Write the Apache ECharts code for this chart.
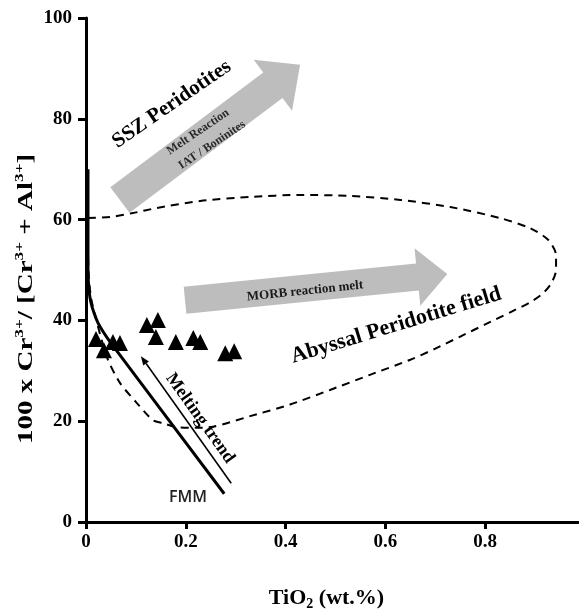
<!DOCTYPE html>
<html>
<head>
<meta charset="utf-8">
<script src="https://cdn.jsdelivr.net/npm/echarts@6/dist/echarts.min.js"></script>
<style>
html,body{margin:0;padding:0;background:#fff;}
#chart{width:579px;height:609px;}
</style>
</head>
<body>
<div id="chart"></div>
<script>
// ---- data ----
const xTickValues = [0, 0.2, 0.4, 0.6, 0.8];
const xTickLabels = ['0', '0.2', '0.4', '0.6', '0.8'];
const yTickValues = [0, 20, 40, 60, 80, 100];

// sample spinels (filled triangles)
const sampleTiO2 = [0.020, 0.036, 0.054, 0.068, 0.122, 0.144, 0.140, 0.180, 0.215, 0.229, 0.279, 0.297];
const sampleCrNo = [36.3, 34.1, 35.7, 35.5, 39.1, 40.1, 36.7, 35.7, 36.5, 35.7, 33.5, 33.9];

// FMM melting curve
const fmmTiO2 = [0.004, 0.004, 0.006, 0.010, 0.016, 0.024, 0.036, 0.050, 0.277];
const fmmCrNo = [70, 50, 46, 43.5, 41.5, 39.5, 37.5, 35.5, 5.6];

// Abyssal peridotite field (closed dashed outline)
const fieldTiO2 = [0.004, 0.048, 0.094, 0.142, 0.229, 0.329, 0.429, 0.529, 0.630, 0.730, 0.830, 0.890, 0.926, 0.942, 0.942, 0.932, 0.915,
  0.890, 0.850, 0.800, 0.750, 0.700, 0.650, 0.569, 0.489, 0.409, 0.329, 0.255, 0.219, 0.182, 0.154, 0.134, 0.102, 0.068, 0.042, 0.012, 0.006, 0.004, 0.004];
const fieldCrNo = [60.3, 60.5, 61.3, 62.3, 63.7, 64.5, 64.9, 64.7, 63.9, 62.5, 60.3, 58.3, 56.0, 53.0, 50.0, 47.3, 45.3,
  43.6, 41.6, 39.2, 36.8, 34.4, 32.2, 29.2, 26.2, 23.3, 21.0, 18.9, 18.7, 18.8, 19.6, 20.2, 23.6, 27.6, 32.7, 43.5, 48.0, 54.0, 60.3];

// arrows: [tailX, tailY, tipX, tipY]
const blockArrows = [
  [0.068, 63.9, 0.429, 90.7],   // SSZ melt reaction arrow
  [0.1985, 44.0, 0.724, 49.2]   // MORB reaction melt arrow
];
const meltingArrow = [[0.291, 7.7, 0.110, 32.9]];

// annotations
const annText = ['SSZ Peridotites', 'Melt Reaction', 'IAT / Boninites', 'MORB reaction melt', 'Abyssal Peridotite field', 'Melting trend', 'FMM'];
const annX = [0.172, 0.2246, 0.2526, 0.439, 0.6216, 0.2286, 0.2045];
const annY = [82.9, 77.4, 74.8, 45.8, 39.0, 20.6, 4.96];

// ---- styles (kept separate from data) ----
const SERIF = '"Liberation Serif", "Times New Roman", serif';
const arrowStyles = [
  { shaft: 32, head: 64, headLen: 34 },
  { shaft: 27, head: 58, headLen: 30 }
];
const annStyles = [
  { rot: 34.6, size: 21, family: SERIF, weight: 'bold', color: '#000' },
  { rot: 34, size: 12, family: SERIF, weight: 'bold', color: '#2a2a2a' },
  { rot: 34, size: 12, family: SERIF, weight: 'bold', color: '#2a2a2a' },
  { rot: 6, size: 13, family: SERIF, weight: 'bold', color: '#1a1a1a' },
  { rot: 17, size: 22, family: SERIF, weight: 'bold', color: '#000' },
  { rot: -54.5, size: 18, family: SERIF, weight: 'bold', color: '#000' },
  { rot: 0, size: 16, family: '"Open Sans", "Liberation Sans", sans-serif', weight: 600, color: '#222' }
];

const zip = (a, b) => a.map((v, i) => [v, b[i]]);

const chart = echarts.init(document.getElementById('chart'), null, { renderer: 'canvas' });

const option = {
  backgroundColor: '#fff',
  animation: false,
  grid: { left: 86, right: -6, top: 18, bottom: 87, containLabel: false, outerBoundsMode: 'none' },
  xAxis: {
    type: 'value',
    min: xTickValues[0],
    max: 1.0,
    interval: xTickValues[1] - xTickValues[0],
    name: '{b|TiO}{sub|2}{b| (wt.%)}',
    nameLocation: 'middle',
    nameGap: 63,
    nameTextStyle: {
      padding: [0, 18, 0, 0],
      rich: {
        b: { fontFamily: SERIF, fontWeight: 'bold', fontSize: 22, color: '#000', lineHeight: 26 },
        sub: { fontFamily: SERIF, fontWeight: 'bold', fontSize: 14, color: '#000', verticalAlign: 'bottom', lineHeight: 26 }
      }
    },
    axisLine: { show: true, lineStyle: { color: '#000', width: 3 } },
    axisTick: { show: true, inside: false, length: 7, lineStyle: { color: '#000', width: 3 } },
    axisLabel: {
      show: true, margin: 11, showMaxLabel: false,
      fontFamily: SERIF, fontWeight: 'bold', fontSize: 19, color: '#000',
      formatter: v => { const i = xTickValues.findIndex(t => Math.abs(t - v) < 1e-9); return i >= 0 ? xTickLabels[i] : ''; }
    },
    splitLine: { show: false }
  },
  yAxis: {
    type: 'value',
    min: yTickValues[0],
    max: yTickValues[yTickValues.length - 1],
    interval: yTickValues[1] - yTickValues[0],
    axisLine: { show: true, lineStyle: { color: '#000', width: 3 } },
    axisTick: { show: true, inside: false, length: 8, lineStyle: { color: '#000', width: 3 } },
    axisLabel: { show: true, margin: 14, fontFamily: SERIF, fontWeight: 'bold', fontSize: 19, color: '#000' },
    splitLine: { show: false }
  },
  graphic: [{
    type: 'text',
    x: 26, y: 299,
    rotation: Math.PI / 2,
    scaleX: 1.32,
    style: {
      text: '{n|100 x Cr}{s|3+}{n|/ [Cr}{s|3+}{n| + Al}{s|3+}{n|]}',
      align: 'center', verticalAlign: 'middle',
      rich: {
        n: { fontFamily: SERIF, fontWeight: 'bold', fontSize: 22, fill: '#000', lineHeight: 26 },
        s: { fontFamily: SERIF, fontWeight: 'bold', fontSize: 13, fill: '#000', verticalAlign: 'top', lineHeight: 26, padding: [0, 0, 10, 0] }
      }
    }
  }],
  series: [
    {
      name: 'Abyssal field',
      type: 'line',
      data: zip(fieldTiO2, fieldCrNo),
      smooth: 0.25,
      symbol: 'none',
      lineStyle: { color: '#000', width: 2, type: [8, 6] },
      z: 2
    },
    {
      name: 'FMM',
      type: 'line',
      data: zip(fmmTiO2, fmmCrNo),
      smooth: 0.3,
      symbol: 'none',
      lineStyle: { color: '#000', width: 3 },
      z: 3
    },
    {
      name: 'block arrows',
      type: 'custom',
      clip: false,
      data: blockArrows,
      renderItem: (params, api) => {
        const st = arrowStyles[params.dataIndex];
        const T = api.coord([api.value(0), api.value(1)]);
        const P = api.coord([api.value(2), api.value(3)]);
        const dx = P[0] - T[0], dy = P[1] - T[1];
        const L = Math.hypot(dx, dy);
        const ux = dx / L, uy = dy / L, nx = -uy, ny = ux;
        const B = [P[0] - ux * st.headLen, P[1] - uy * st.headLen];
        const w = st.shaft / 2, h = st.head / 2;
        const pts = [
          [T[0] + nx * w, T[1] + ny * w],
          [B[0] + nx * w, B[1] + ny * w],
          [B[0] + nx * h, B[1] + ny * h],
          [P[0], P[1]],
          [B[0] - nx * h, B[1] - ny * h],
          [B[0] - nx * w, B[1] - ny * w],
          [T[0] - nx * w, T[1] - ny * w]
        ];
        return { type: 'polygon', shape: { points: pts }, style: { fill: '#bdbdbd', stroke: null } };
      },
      z: 1
    },
    {
      name: 'melting trend arrow',
      type: 'custom',
      clip: false,
      data: meltingArrow,
      renderItem: (params, api) => {
        const T = api.coord([api.value(0), api.value(1)]);
        const P = api.coord([api.value(2), api.value(3)]);
        const dx = P[0] - T[0], dy = P[1] - T[1];
        const L = Math.hypot(dx, dy);
        const ux = dx / L, uy = dy / L, nx = -uy, ny = ux;
        const hl = 9, hw = 3.5;
        const B = [P[0] - ux * hl, P[1] - uy * hl];
        return {
          type: 'group',
          children: [
            { type: 'line', shape: { x1: T[0], y1: T[1], x2: B[0], y2: B[1] }, style: { stroke: '#000', lineWidth: 1.6 } },
            { type: 'polygon', shape: { points: [[P[0], P[1]], [B[0] + nx * hw, B[1] + ny * hw], [B[0] - nx * hw, B[1] - ny * hw]] }, style: { fill: '#000' } }
          ]
        };
      },
      z: 4
    },
    {
      name: 'Samples',
      type: 'scatter',
      data: zip(sampleTiO2, sampleCrNo),
      symbol: 'triangle',
      symbolSize: [16, 16],
      itemStyle: { color: '#000', opacity: 1 },
      z: 5
    },
    {
      name: 'annotations',
      type: 'custom',
      clip: false,
      data: zip(annX, annY),
      renderItem: (params, api) => {
        const st = annStyles[params.dataIndex];
        const p = api.coord([api.value(0), api.value(1)]);
        return {
          type: 'text',
          x: p[0], y: p[1],
          rotation: st.rot * Math.PI / 180,
          style: {
            text: annText[params.dataIndex],
            fontFamily: st.family, fontWeight: st.weight, fontSize: st.size,
            fill: st.color, align: 'center', verticalAlign: 'middle'
          }
        };
      },
      z: 6
    }
  ]
};

chart.setOption(option);
</script>
</body>
</html>
